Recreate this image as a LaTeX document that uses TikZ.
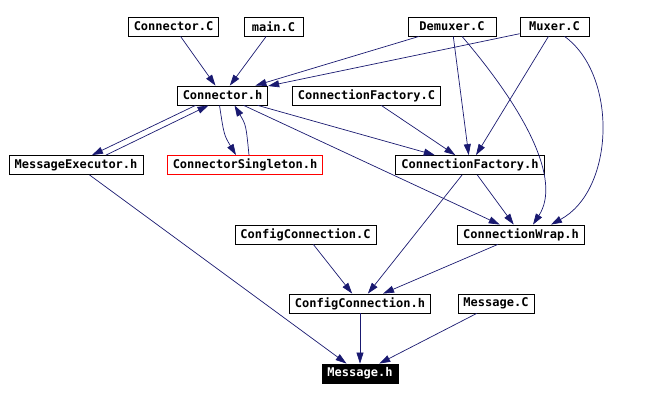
\documentclass[tikz,border=0pt]{standalone}
\usepackage{fontspec}
\setmonofont{DejaVu Sans Mono}
\usetikzlibrary{arrows.meta}
\definecolor{edgeblue}{RGB}{25,25,112}

\begin{document}
\begin{tikzpicture}[x=1pt, y=-1pt,
  file/.style={draw, line width=0.8pt, inner xsep=5.5pt, inner ysep=0pt,
    minimum height=19pt, font=\ttfamily\bfseries\fontsize{12}{14}\selectfont},
  dep/.style={draw=edgeblue, line width=0.7pt, -{Triangle[length=11pt,width=7pt]}}]
\useasboundingbox (0,0) rectangle (649,401);

% files
\node[file] (connc) at (173.5,26.5) {Connector.C};
\node[file, minimum width=59pt] (mainc) at (273.5,26.5) {main.C};
\node[file, minimum width=88pt] (demuxc) at (452,26.5) {Demuxer.C};
\node[file, minimum width=69pt] (muxc) at (554.5,26.5) {Muxer.C};
\node[file] (connh) at (222.5,95.5) {Connector.h};
\node[file] (facc) at (366.5,95.5) {ConnectionFactory.C};
\node[file] (exech) at (76,165) {MessageExecutor.h};
\node[file, draw=red] (singh) at (245,165) {ConnectorSingleton.h};
\node[file] (facth) at (470,165) {ConnectionFactory.h};
\node[file] (wraph) at (521,234.5) {ConnectionWrap.h};
\node[file] (cfgc) at (305.5,234.5) {ConfigConnection.C};
\node[file] (cfgh) at (360,303.5) {ConfigConnection.h};
\node[file] (msgc) at (496,303.5) {Message.C};
\node[file, fill=black, text=white] (msgh) at (360,373.5) {Message.h};

% includes
\draw[dep] (connc) -- (connh);
\draw[dep] (mainc) -- (connh);
\draw[dep] (demuxc) -- (connh);
\draw[dep] (muxc) -- (connh);
\draw[dep] (demuxc) -- (facth);
\draw[dep] ([xshift=10pt]demuxc.south) .. controls (525,110) and (562,180) .. ([xshift=12pt]wraph.north);
\draw[dep] (muxc) -- (facth);
\draw[dep] ([xshift=10pt]muxc.south) .. controls (618,75) and (615,190) .. ([xshift=30pt]wraph.north);
\draw[dep] ([xshift=-27pt]connh.south) -- ([xshift=16pt]exech.north);
\draw[dep] ([xshift=30pt]exech.north) -- ([xshift=-14pt]connh.south);
\draw[dep] ([xshift=-3pt]connh.south) .. controls (224,135) .. ([xshift=-9pt]singh.north);
\draw[dep] ([xshift=4pt]singh.north) .. controls (246,125) .. ([xshift=12pt]connh.south);
\draw[dep] (connh) -- (facth);
\draw[dep] (connh) -- (wraph);
\draw[dep] (facc) -- (facth);
\draw[dep] (facth) -- (wraph);
\draw[dep] (facth) -- (cfgh);
\draw[dep] (wraph) -- (cfgh);
\draw[dep] (cfgc) -- (cfgh);
\draw[dep] (cfgh) -- (msgh);
\draw[dep] (exech) -- (msgh);
\draw[dep] (msgc) -- (msgh);
\end{tikzpicture}
\end{document}
